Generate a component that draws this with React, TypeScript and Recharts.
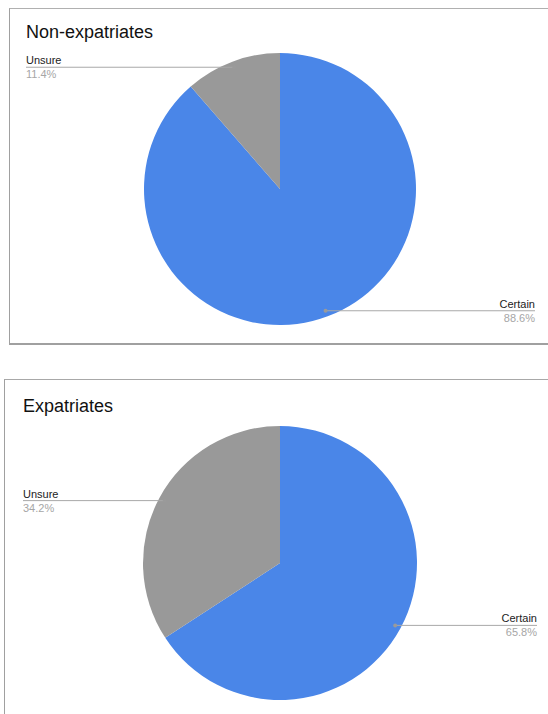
import { Cell, Pie, PieChart } from "recharts";

const categories = ["Certain", "Unsure"];
const nonExpatValues = [88.6, 11.4];
const expatValues = [65.8, 34.2];
const sliceColors = ["#4a86e8", "#999999"];

const FONT = "'Liberation Sans', Arial, sans-serif";
const RADIAN = Math.PI / 180;

type SliceDatum = { name: string; value: number };

const toData = (values: number[]): SliceDatum[] =>
  categories.map((name, i) => ({ name, value: values[i] }));

function makeLabel(leftX: number, rightX: number) {
  return (props: any) => {
    const cx = Number(props.cx);
    const cy = Number(props.cy);
    const r = Number(props.outerRadius) - 6;
    const px = cx + r * Math.cos(-props.midAngle * RADIAN);
    const py = cy + r * Math.sin(-props.midAngle * RADIAN);
    const isRight = px > cx;
    const edge = isRight ? rightX : leftX;
    const anchor = isRight ? "end" : "start";
    return (
      <g>
        <line x1={px} y1={py} x2={edge} y2={py} stroke="#a8a8a8" strokeWidth={1} />
        <circle cx={px} cy={py} r={2} fill="#9a9a9a" />
        <text x={edge} y={py - 3} textAnchor={anchor} fontSize={11} fill="#222" fontFamily={FONT}>
          {props.name}
        </text>
        <text x={edge} y={py + 11} textAnchor={anchor} fontSize={11} fill="#a6a6a6" fontFamily={FONT}>
          {(props.percent * 100).toFixed(1)}%
        </text>
      </g>
    );
  };
}

type ChartProps = {
  values: number[];
  height: number;
  cy: number;
  radius: number;
  leftX: number;
  rightX: number;
};

function StatusPie({ values, height, cy, radius, leftX, rightX }: ChartProps) {
  return (
    <PieChart width={548} height={height} margin={{ top: 0, right: 0, bottom: 0, left: 0 }}>
      <Pie
        data={toData(values)}
        dataKey="value"
        nameKey="name"
        cx={280}
        cy={cy}
        outerRadius={radius}
        startAngle={90}
        endAngle={-270}
        stroke="none"
        labelLine={false}
        label={makeLabel(leftX, rightX)}
        isAnimationActive={false}
      >
        {values.map((_, i) => (
          <Cell key={categories[i]} fill={sliceColors[i]} />
        ))}
      </Pie>
    </PieChart>
  );
}

export default function App() {
  return (
    <div
      style={{
        position: "absolute",
        left: 0,
        top: 0,
        width: 548,
        height: 714,
        overflow: "hidden",
        background: "#fff",
        fontFamily: FONT,
      }}
    >
      <div
        style={{
          position: "absolute",
          left: 9,
          top: 8,
          width: 560,
          height: 334,
          borderLeft: "1px solid #a0a0a0",
          borderTop: "1px solid #b0b0b0",
          borderBottom: "2px solid #a0a0a0",
        }}
      />
      <div
        style={{
          position: "absolute",
          left: 4,
          top: 379,
          width: 560,
          height: 360,
          borderLeft: "1px solid #a0a0a0",
          borderTop: "1px solid #a8a8a8",
        }}
      />
      <div style={{ position: "absolute", left: 26, top: 22, fontSize: 18, color: "#111" }}>
        Non-expatriates
      </div>
      <div style={{ position: "absolute", left: 23, top: 396, fontSize: 18, color: "#111" }}>
        Expatriates
      </div>
      <div style={{ position: "absolute", left: 0, top: 0 }}>
        <StatusPie values={nonExpatValues} height={372} cy={189} radius={136} leftX={26} rightX={535} />
      </div>
      <div style={{ position: "absolute", left: 0, top: 372 }}>
        <StatusPie values={expatValues} height={342} cy={191} radius={137} leftX={23} rightX={537} />
      </div>
    </div>
  );
}
